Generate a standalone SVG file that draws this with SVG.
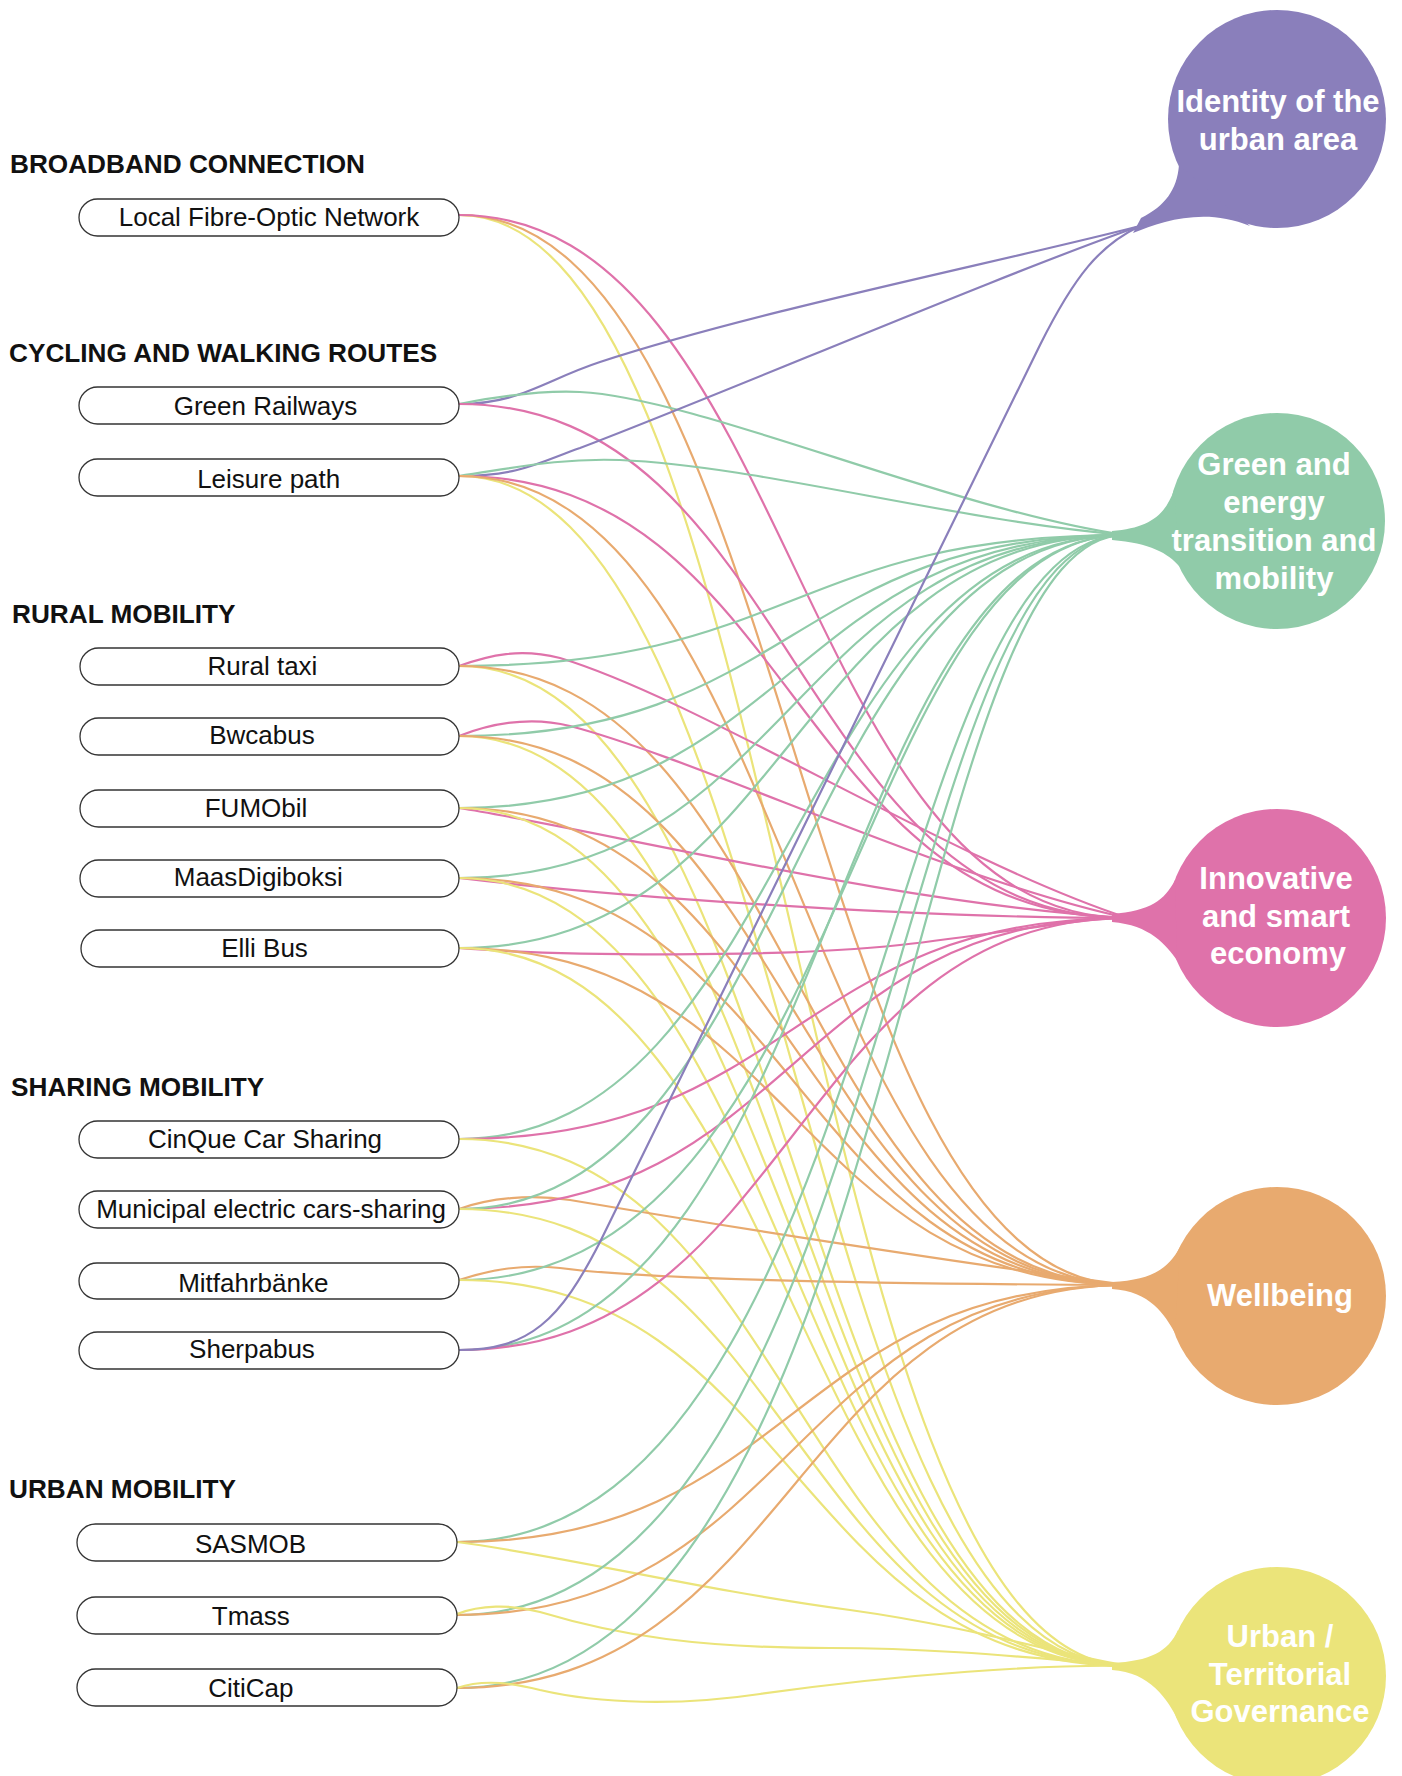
<svg xmlns="http://www.w3.org/2000/svg" width="1402" height="1776" viewBox="0 0 1402 1776">
<style>
.ln{fill:none;stroke-width:2.2;stroke-linecap:round}
.v{stroke:#8a7fbb}.g{stroke:#90cba9}.p{stroke:#df72aa}.o{stroke:#e8aa6f}.y{stroke:#ebe47a}
.box{fill:#fff;stroke:#333;stroke-width:1.3}
.lbl{font-family:"Liberation Sans",Arial,sans-serif;font-size:26px;fill:#111;text-anchor:middle}
.hd{font-family:"Liberation Sans",Arial,sans-serif;font-size:26.2px;font-weight:bold;fill:#111}
.bt{font-family:"Liberation Sans",Arial,sans-serif;font-size:31px;font-weight:bold;fill:#fff;text-anchor:middle}
</style>
<rect width="1402" height="1776" fill="#fff"/>
<g id="connectors">
<!-- Local Fibre -->
<path class="ln y" d="M459,215 C794,215 794,1666 1130,1666"/>
<path class="ln o" d="M459,215 C794,215 794,1285 1128,1285"/>
<path class="ln p" d="M459,215 C794,215 794,918 1128,918"/>
<!-- Green Railways -->
<path class="ln v" d="M459,404 C520,404 545,380 600,362 C760,310 1000,262 1140,226"/>
<path class="ln g" d="M459,404 C500,396 540,390 580,392 C700,398 950,510 1125,535"/>
<path class="ln p" d="M459,404 C794,404 794,918 1128,918"/>
<!-- Leisure path -->
<path class="ln v" d="M459,476 C520,476 540,462 580,448 C720,395 1000,275 1140,226"/>
<path class="ln g" d="M459,476 C520,467 560,458 620,460 C760,466 950,520 1125,535"/>
<path class="ln p" d="M459,476 C794,476 794,918 1128,918"/>
<path class="ln y" d="M459,476 C794,476 794,1666 1130,1666"/>
<path class="ln o" d="M459,476 C794,476 794,1285 1128,1285"/>
<!-- Rural taxi -->
<path class="ln p" d="M459,666 C490,655 520,648 560,658 C700,700 950,860 1128,918"/>
<path class="ln g" d="M459,666 C792,666 792,535 1125,535"/>
<path class="ln y" d="M459,666 C794,666 794,1666 1130,1666"/>
<path class="ln o" d="M459,666 C794,666 794,1285 1128,1285"/>
<!-- Bwcabus -->
<path class="ln p" d="M459,736 C490,724 530,716 570,726 C700,760 950,880 1128,918"/>
<path class="ln g" d="M459,736 C792,736 792,535 1125,535"/>
<path class="ln y" d="M459,736 C794,736 794,1666 1130,1666"/>
<path class="ln o" d="M459,736 C794,736 794,1285 1128,1285"/>
<!-- FUMObil -->
<path class="ln g" d="M459,808 C792,808 792,535 1125,535"/>
<path class="ln p" d="M459,808 C600,830 900,905 1128,918"/>
<path class="ln o" d="M459,808 C794,808 794,1285 1128,1285"/>
<path class="ln y" d="M459,808 C794,808 794,1666 1130,1666"/>
<!-- MaasDigiboksi -->
<path class="ln g" d="M459,878 C792,878 792,535 1125,535"/>
<path class="ln p" d="M459,878 C600,895 900,918 1128,918"/>
<path class="ln o" d="M459,878 C794,878 794,1285 1128,1285"/>
<path class="ln y" d="M459,878 C794,878 794,1666 1130,1666"/>
<!-- Elli Bus -->
<path class="ln g" d="M459,948 C792,948 792,535 1125,535"/>
<path class="ln p" d="M459,948 C560,956 780,958 900,945 C1000,934 1080,918 1128,918"/>
<path class="ln o" d="M459,948 C794,948 794,1285 1128,1285"/>
<path class="ln y" d="M459,948 C794,948 794,1666 1130,1666"/>
<!-- CinQue -->
<path class="ln g" d="M459,1139 C792,1139 792,535 1125,535"/>
<path class="ln p" d="M459,1139 C794,1139 794,918 1128,918"/>
<path class="ln y" d="M459,1139 C794,1139 794,1666 1130,1666"/>
<!-- Municipal -->
<path class="ln o" d="M459,1209 C490,1198 530,1194 570,1200 C700,1222 950,1262 1128,1285"/>
<path class="ln p" d="M459,1209 C794,1209 794,918 1128,918"/>
<path class="ln g" d="M459,1209 C792,1209 792,535 1125,535"/>
<path class="ln y" d="M459,1209 C794,1209 794,1666 1130,1666"/>
<!-- Mitfahrbaenke -->
<path class="ln o" d="M459,1280 C490,1270 520,1264 560,1268 C650,1280 900,1284 1128,1285"/>
<path class="ln g" d="M459,1280 C850,1280 850,535 1125,535"/>
<path class="ln y" d="M459,1280 C794,1280 794,1666 1130,1666"/>
<!-- Sherpabus -->
<path class="ln g" d="M459,1350 C830,1350 830,535 1125,535"/>
<path class="ln p" d="M459,1350 C794,1350 794,918 1128,918"/>
<path class="ln v" d="M459,1350 C530,1350 560,1320 600,1242 L1040,345 C1075,275 1100,245 1140,226"/>
<!-- SASMOB -->
<path class="ln g" d="M457,1542 C880,1542 880,535 1125,535"/>
<path class="ln o" d="M457,1542 C793,1542 793,1285 1128,1285"/>
<path class="ln y" d="M457,1542 C560,1555 700,1590 850,1610 C980,1628 1080,1660 1130,1666"/>
<!-- Tmass -->
<path class="ln g" d="M457,1615 C890,1615 890,535 1125,535"/>
<path class="ln o" d="M457,1615 C793,1615 793,1285 1128,1285"/>
<path class="ln y" d="M457,1614 C480,1605 510,1604 540,1612 C620,1636 700,1648 830,1648 C950,1648 1050,1660 1130,1666"/>
<!-- CitiCap -->
<path class="ln g" d="M457,1688 C900,1688 900,535 1125,535"/>
<path class="ln o" d="M457,1688 C793,1688 793,1285 1128,1285"/>
<path class="ln y" d="M457,1688 C480,1680 510,1682 540,1690 C600,1704 680,1706 760,1694 C900,1674 1050,1664 1130,1666"/>
</g>
<g id="headings">
<text class="hd" x="10" y="173">BROADBAND CONNECTION</text>
<text class="hd" x="9" y="362">CYCLING AND WALKING ROUTES</text>
<text class="hd" x="12" y="623">RURAL MOBILITY</text>
<text class="hd" x="11" y="1096">SHARING MOBILITY</text>
<text class="hd" x="9" y="1498">URBAN MOBILITY</text>
</g>
<g id="n-fibre"><rect class="box" x="79" y="199" width="380" height="37" rx="18.5"/><text class="lbl" x="269" y="225.5">Local Fibre-Optic Network</text></g>
<g id="n-greenrail"><rect class="box" x="79" y="387" width="380" height="37" rx="18.5"/><text class="lbl" x="265.5" y="414.5">Green Railways</text></g>
<g id="n-leisure"><rect class="box" x="79" y="459" width="380" height="37" rx="18.5"/><text class="lbl" x="268.7" y="488">Leisure path</text></g>
<g id="n-ruraltaxi"><rect class="box" x="80" y="648" width="379" height="37" rx="18.5"/><text class="lbl" x="262.5" y="675">Rural taxi</text></g>
<g id="n-bwcabus"><rect class="box" x="80" y="718" width="379" height="37" rx="18.5"/><text class="lbl" x="262" y="743.5">Bwcabus</text></g>
<g id="n-fumobil"><rect class="box" x="80" y="790" width="379" height="37" rx="18.5"/><text class="lbl" x="256" y="816.5">FUMObil</text></g>
<g id="n-maas"><rect class="box" x="80" y="860" width="379" height="37" rx="18.5"/><text class="lbl" x="258.3" y="885.5">MaasDigiboksi</text></g>
<g id="n-elli"><rect class="box" x="81" y="930" width="378" height="37" rx="18.5"/><text class="lbl" x="264.5" y="956.5">Elli Bus</text></g>
<g id="n-cinque"><rect class="box" x="79" y="1121" width="380" height="37" rx="18.5"/><text class="lbl" x="265" y="1148">CinQue Car Sharing</text></g>
<g id="n-municipal"><rect class="box" x="79" y="1191" width="380" height="37" rx="18.5"/><text class="lbl" x="271" y="1218">Municipal electric cars-sharing</text></g>
<g id="n-mitfahr"><rect class="box" x="79" y="1263" width="380" height="36" rx="18"/><text class="lbl" x="253.3" y="1292">Mitfahrbänke</text></g>
<g id="n-sherpabus"><rect class="box" x="79" y="1332" width="380" height="37" rx="18.5"/><text class="lbl" x="252" y="1357.5">Sherpabus</text></g>
<g id="n-sasmob"><rect class="box" x="77" y="1524" width="380" height="37" rx="18.5"/><text class="lbl" x="250.5" y="1553">SASMOB</text></g>
<g id="n-tmass"><rect class="box" x="77" y="1597" width="380" height="37" rx="18.5"/><text class="lbl" x="250.8" y="1625">Tmass</text></g>
<g id="n-citicap"><rect class="box" x="77" y="1669" width="380" height="37" rx="18.5"/><text class="lbl" x="250.8" y="1697">CitiCap</text></g>
<g id="b-identity" fill="#8a7fbb">
<circle cx="1277" cy="119" r="109"/>
<path d="M1179,165 C1177,190 1165,206 1141,218 L1133,233 C1162,221 1205,207 1250,226 Z"/>
<text class="bt" x="1278" y="112">Identity of the</text>
<text class="bt" x="1278" y="150">urban area</text>
</g>
<g id="b-green" fill="#90cba9">
<circle cx="1277" cy="521" r="108"/>
<path d="M1174,490 C1165,515 1150,528 1112,531 L1112,540 C1150,543 1168,553 1180,567 Z"/>
<text class="bt" x="1274" y="475">Green and</text>
<text class="bt" x="1274" y="513">energy</text>
<text class="bt" x="1274" y="551">transition and</text>
<text class="bt" x="1274" y="589">mobility</text>
</g>
<g id="b-innovative" fill="#df72aa">
<circle cx="1277" cy="918" r="109"/>
<path d="M1175,880 C1165,900 1150,911 1112,914 L1112,922 C1150,925 1166,945 1177,960 Z"/>
<text class="bt" x="1276" y="889">Innovative</text>
<text class="bt" x="1276" y="927">and smart</text>
<text class="bt" x="1278" y="964">economy</text>
</g>
<g id="b-wellbeing" fill="#e8aa6f">
<circle cx="1277" cy="1296" r="109"/>
<path d="M1180,1247 C1168,1270 1150,1280 1112,1282 L1112,1289 C1150,1291 1165,1315 1175,1333 Z"/>
<text class="bt" x="1280" y="1306">Wellbeing</text>
</g>
<g id="b-governance" fill="#ebe47a">
<circle cx="1277" cy="1676" r="109"/>
<path d="M1178,1630 C1168,1652 1150,1661 1112,1663 L1112,1670 C1150,1672 1168,1700 1178,1720 Z"/>
<text class="bt" x="1280" y="1647">Urban /</text>
<text class="bt" x="1280" y="1685">Territorial</text>
<text class="bt" x="1280" y="1722">Governance</text>
</g>
</svg>
